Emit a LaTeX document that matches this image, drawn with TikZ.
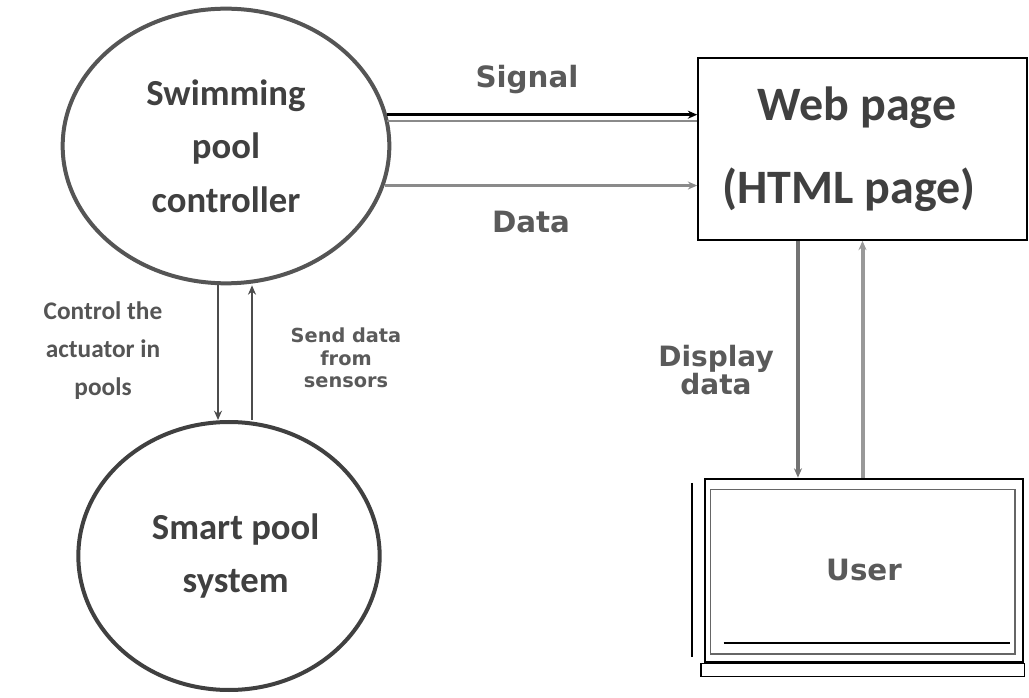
\documentclass[tikz,border=0pt]{standalone}
\usepackage{fontspec}
\setmainfont{Carlito}
\newfontfamily\blurfont{DejaVu Sans}
\usetikzlibrary{shapes.geometric,arrows.meta}
\definecolor{txtgray}{HTML}{404040}
\definecolor{edgegray}{HTML}{555555}
\definecolor{linegray}{HTML}{8A8A8A}
\definecolor{blurgray}{HTML}{5A5A5A}
\begin{document}
\begin{tikzpicture}[x=0.75pt,y=-0.75pt,
  bubble/.style={ellipse,draw=edgegray,line width=3pt,fill=white,text=txtgray,
    font=\bfseries\fontsize{27.5}{40}\selectfont,align=center,inner sep=0pt},
  webbox/.style={rectangle,draw=black,line width=1.2pt,fill=white,text=txtgray,
    font=\bfseries\fontsize{36}{62}\selectfont,align=center,inner sep=0pt},
  userbox/.style={rectangle,draw=black,line width=2pt,fill=white,text=blurgray,
    font=\blurfont\bfseries\fontsize{22}{26}\selectfont,inner sep=0pt},
  blurlbl/.style={text=blurgray,font=\blurfont\bfseries,align=center,inner sep=0pt},
  sidelbl/.style={text=edgegray,font=\bfseries\fontsize{19}{28.5}\selectfont,align=center,inner sep=0pt},
  conn/.style={line width=2pt,-{Stealth[length=7pt,width=6pt]}},
]
\useasboundingbox (0,0) rectangle (1029,698);

\node[bubble,minimum width=245pt,minimum height=206pt] (ctrl) at (226,146) {Swimming\\pool\\controller};
\node[bubble,draw=txtgray,minimum width=226pt,minimum height=201pt] (pool) at (229,556) {\hspace*{10pt}Smart pool\\\hspace*{10pt}system};
\node[webbox,minimum width=246.75pt,minimum height=136.5pt] (web) at (862.5,149) {Web page\hspace*{8pt}\\(HTML page)\hspace*{20pt}};
\node[userbox,minimum width=238.5pt,minimum height=137.25pt] (user) at (864,570.5) {User};

% laptop-like decoration of the user box
\draw[black!60,line width=0.8pt] ([xshift=5pt,yshift=-9pt]user.north west) rectangle ([xshift=-7pt,yshift=7pt]user.south east);
\draw[black,line width=1.5pt] ([xshift=15pt,yshift=15pt]user.south west) -- ([xshift=-11pt,yshift=15pt]user.south east);
\draw[black,line width=1.2pt] ([xshift=-2pt]user.south west) rectangle ([yshift=-10pt]user.south east);
\draw[black,line width=1.5pt] ([xshift=-9pt,yshift=-4pt]user.north west) -- ([xshift=-9pt,yshift=5pt]user.south west);

% controller -> web page
\draw[linegray,line width=1.5pt] ([yshift=-5pt]ctrl.11) -- ([yshift=-5pt]ctrl.11 -| web.west);
\draw[conn,line width=2pt] (ctrl.11) -- (ctrl.11 -| web.west);
\draw[conn,draw=linegray] (ctrl.-14) -- (ctrl.-14 -| web.west);
\node[blurlbl,font=\blurfont\bfseries\fontsize{22}{26}\selectfont] (sig) at (527,80) {Signal};
\node[blurlbl,font=\blurfont\bfseries\fontsize{22}{26}\selectfont] (dat) at (531,222) {Data};

% controller <-> smart pool
\draw[conn,draw=black!70] ([xshift=-6pt]ctrl.south) -- ([xshift=-6pt]ctrl.south |- pool.north);
\draw[conn,draw=black!70] ([xshift=19.5pt]ctrl.south |- pool.north) -- ([xshift=19.5pt]ctrl.south);
\node[sidelbl] (act) at (103,351) {Control the\\actuator in\\pools};
\node[blurlbl,font=\blurfont\bfseries\fontsize{14.5}{17}\selectfont] (snd) at (346,358) {Send data\\from\\sensors};

% web page <-> user
\draw[conn,draw=black!55,line width=3pt] ([xshift=-48.4pt]web.south) -- ([xshift=-48.4pt]web.south |- user.north);
\draw[conn,draw=black!40,line width=3pt] (web.south |- user.north) -- (web.south);
\node[blurlbl,font=\blurfont\bfseries\fontsize{21}{21}\selectfont] (disp) at (716,370) {Display\\data};
\end{tikzpicture}
\end{document}
